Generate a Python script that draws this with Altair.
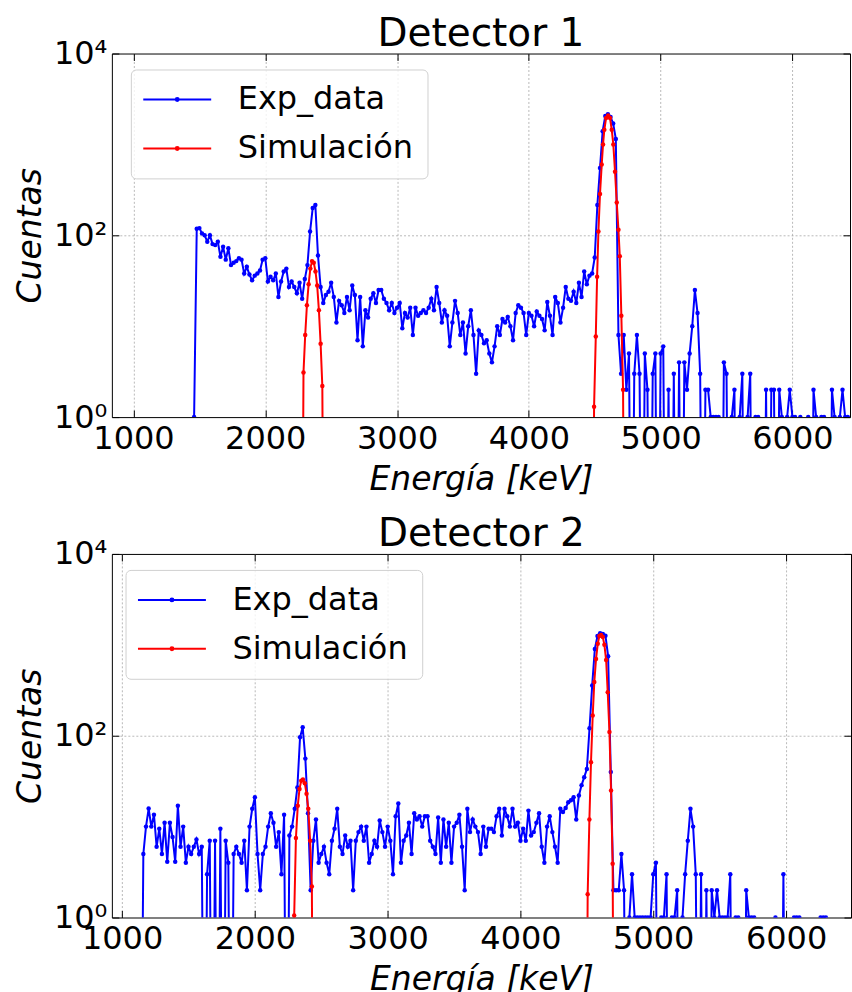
import altair as alt
import pandas as pd

# ---------------- data (counts) ----------------
STEP = 20  # keV between experimental bins

# Detector 1 - experimental spectrum, bins from 1460 keV, one row = 200 keV
d1_exp_start = 1460
d1_exp = [
    1, 118, 120, 105, 100, 85, 100, 80, 78, 85,          # 1460
    58, 75, 54, 72, 47, 50, 52, 56, 54, 38,              # 1660
    45, 37, 32, 36, 38, 41, 54, 56, 31, 35,              # 1860
    32, 38, 21, 31, 40, 43, 27, 31, 27, 23,              # 2060
    30, 20, 33, 47, 110, 200, 215, 60, 27, 18,           # 2260
    22, 24, 30, 21, 11, 19, 17, 14, 21, 15,              # 2460
    28, 22, 7, 21, 6, 15, 12.5, 20, 23, 18,              # 2660
    25, 25, 20, 18, 15, 18, 14, 16, 18, 9.5,             # 2860
    14, 12.5, 16, 8, 16, 13, 14, 15, 14, 16,             # 3060
    20, 15, 27, 18, 11, 15, 13, 6, 11, 19,               # 3260
    14, 8, 11, 5, 10, 15, 8, 3, 9, 8,                    # 3460
    6.5, 7, 5, 4, 6, 10, 8, 12, 11, 12.6,                # 3660
    10, 7, 14, 17, 16, 14, 8, 14, 13, 10,                # 3860
    14.5, 13, 12, 9, 18.5, 13, 8, 21, 18, 11,            # 4060
    16, 27, 20, 19, 24, 18, 30, 21, 40, 29,              # 4260
    36, 38, 57, 215, 550, 1400, 2050, 2150, 2000, 1700,  # 4460
    1150, 8, 3, 8, 2, 5, 0, 3, 8, 3,                     # 4660
    0, 5, 2, 0, 3, 5, 0, 5, 6, 0,                        # 4860
    2, 0, 3, 0, 4, 0, 4, 2, 5, 10,                       # 5060
    25, 14, 3, 0, 2, 2, 1, 1, 1, 1,                      # 5260
    0, 4, 3, 0, 1, 2, 0, 1, 3, 0,                        # 5460
    1, 3, 0, 1, 1, 0, 0, 2, 0, 2,                        # 5660
    2, 0, 2, 1, 0, 1, 2, 1, 1, 0,                        # 5860
    1, 0, 0, 1, 0, 2, 1, 0, 1, 1,                        # 6060
    0, 0, 2, 1, 0, 1, 2, 1, 1, 0,                        # 6260
]

# Detector 1 - simulation (two peaks)
d1_sim_energy = [2278, 2290, 2303, 2316, 2329, 2342, 2355, 2368, 2381, 2394, 2407, 2420, 2433, 2446,
                 4483, 4495, 4508, 4518, 4528, 4540, 4553, 4563, 4573, 4586, 4601, 4616, 4629, 4641,
                 4654, 4667, 4680, 4690, 4702, 4715, 4727]
d1_sim = [0, 3.1, 8, 17, 29, 43, 52, 50, 40, 28, 15, 6.4, 2.2, 0,
          0, 1.3, 7.7, 35, 110, 285, 600, 1000, 1450, 1950, 2080, 1950, 1450, 1000,
          500, 230, 115, 59, 13, 2, 0]

# Detector 2 - experimental spectrum, bins from 1140 keV
d2_exp_start = 1140
d2_exp = [
    0, 5, 10, 15.8, 10, 13.5, 6, 9.5, 5, 11,             # 1140
    4.1, 11, 7.7, 4.1, 17, 6, 10, 4, 6, 5,               # 1340
    6, 7.2, 5, 6, 0, 3, 7, 0, 7, 0,                      # 1540
    9.5, 0, 7, 4, 0, 5, 6, 5, 4, 7,                      # 1740
    2, 10, 15.7, 21, 5, 2, 5, 6, 10, 14,                 # 1940
    11, 6, 8.7, 3, 13.5, 0, 8, 10, 15.7, 27,             # 2140
    96, 124, 56, 14, 2, 7, 12, 4, 5, 6,                  # 2340
    4, 3, 7, 9.5, 15.7, 6, 5, 8, 6, 7,                   # 2540
    2, 7, 8.7, 10, 7, 10, 4, 5, 7, 6,                    # 2740
    11.7, 8.7, 6, 10, 7, 3, 13, 18, 4, 7,                # 2940
    8, 11, 5, 14, 12, 13, 10, 13, 13, 7,                 # 3140
    6, 5, 12.6, 4, 12, 6, 11, 4, 10, 11,                 # 3340
    13.5, 6, 2, 15.7, 8.7, 12, 10, 8.7, 5, 10,           # 3540
    6, 9.5, 9.5, 8.7, 13, 15.7, 8, 15.7, 13, 10,         # 3740
    15.7, 10, 11, 7, 9.5, 7, 15, 8, 8.7, 11,             # 3940
    14, 6, 4, 10, 13, 8.7, 6, 4, 15.7, 14.5,             # 4140
    16, 18.5, 19.5, 21, 12, 22, 28.6, 35, 43, 121,       # 4340
    358, 900, 1250, 1340, 1320, 1260, 750, 40, 2, 2,     # 4540
    2, 5, 2, 0, 1, 3, 1, 1, 1, 1,                        # 4740
    1, 1, 1, 3, 4, 0, 1, 1, 3, 0,                        # 4940
    1, 1, 2, 0, 1, 3, 7, 15.7, 10, 3,                    # 5140
    0, 3, 0, 2, 0, 2, 1, 2, 1, 1,                        # 5340
    1, 1, 3, 0, 1, 1, 0, 0, 2, 1,                        # 5540
    1, 1, 0, 0, 0, 0, 0, 0, 0, 1,                        # 5740
    0, 0, 3, 0, 0, 0, 1, 1, 1, 0,                        # 5940
    0, 0, 0, 0, 0, 0, 1, 1, 1,                           # 6140
]

# Detector 2 - simulation (two peaks)
d2_sim_energy = [2283, 2296, 2309, 2323, 2336, 2349, 2362, 2376, 2389, 2402, 2416, 2429, 2442,
                 4494, 4506, 4519, 4531, 4544, 4556, 4569, 4582, 4594, 4607, 4620, 4632, 4645,
                 4657, 4670, 4682, 4694, 4706]
d2_sim = [0, 1.05, 7.5, 17, 26, 32, 33, 30, 23, 15.7, 7, 2.2, 0,
          0, 1.8, 12, 51, 167, 390, 700, 1025, 1250, 1280, 1220, 1000, 680,
          300, 110, 25, 3.9, 0]

x_ticks = [1000, 2000, 3000, 4000, 5000, 6000]
y_ticks = [1, 100, 10000]
series = ["Exp_data", "Simulación"]
colors = ["#0000ff", "#ff0000"]

FONT = "DejaVu Sans"
ZERO_FLOOR = 1e-3  # zero counts fall far below the log axis (clipped), as in matplotlib


def make_df(energy, counts, name):
    df = pd.DataFrame({"energia": energy, "cuentas": counts})
    df["serie"] = name
    df["y"] = df["cuentas"].where(df["cuentas"] > 0, ZERO_FLOOR)
    return df


def panel(exp_df, sim_df, title, xdom, width, lx, ly):
    xscale = alt.Scale(domain=xdom, nice=False, zero=False)
    yscale = alt.Scale(type="log", domain=[1, 10000], nice=False)
    legend = alt.Legend(
        title=None, orient="none", legendX=lx, legendY=ly,
        symbolType="M-1.55,0L4.45,0M1.58,0A0.13,0.13,0,1,1,1.32,0A0.13,0.13,0,1,1,1.58,0",
        symbolSize=514, symbolStrokeWidth=2,
        labelFont=FONT, labelFontSize=32, labelColor="black", labelOffset=61, labelLimit=0,
        rowPadding=17, padding=14,
        fillColor="rgba(255,255,255,0.8)", strokeColor="#d0d0d0", cornerRadius=5,
    )
    color = alt.Color("serie:N", scale=alt.Scale(domain=series, range=colors), legend=legend)
    x_axis = alt.Axis(
        values=x_ticks, format="d", title="Energía [keV]", orient="bottom",
        offset=-7, domain=False, tickSize=7, labelPadding=6, titlePadding=9,
        grid=True,
    )
    y_axis = alt.Axis(
        values=y_ticks, title="Cuentas", orient="left",
        labelExpr="datum.value == 1 ? '10⁰' : (datum.value == 100 ? '10²' : '10⁴')",
        offset=-7, domain=False, tickSize=7, labelPadding=5, titlePadding=6,
        grid=True,
        gridOpacity={"condition": {"test": "datum.value == 100", "value": 1}, "value": 0},
    )
    x_top = alt.Axis(values=x_ticks, orient="top", labels=False, title=None, offset=-7,
                     domain=False, tickSize=7, grid=False)
    y_right = alt.Axis(values=y_ticks, orient="right", labels=False, title=None, offset=-7,
                       domain=False, tickSize=7, grid=False)
    line_kw = dict(strokeWidth=2, clip=True,
                   point=alt.OverlayMarkDef(filled=True, size=20, clip=True))
    blue = alt.Chart(exp_df).mark_line(**line_kw).encode(
        x=alt.X("energia:Q", scale=xscale, axis=x_axis),
        y=alt.Y("y:Q", scale=yscale, axis=y_axis),
        color=color,
    )
    red = alt.Chart(sim_df).mark_line(**line_kw).encode(
        x=alt.X("energia:Q", scale=xscale, axis=None),
        y=alt.Y("y:Q", scale=yscale, axis=None),
        color=color,
    )
    frame = alt.Chart(exp_df).mark_line(opacity=0, clip=True).encode(
        x=alt.X("energia:Q", scale=xscale, axis=x_top),
        y=alt.Y("y:Q", scale=yscale, axis=y_right),
    )
    return alt.layer(blue, red, frame).resolve_axis(x="independent", y="independent").properties(
        width=width, height=364,
        title=alt.Title(title, fontSize=39, font=FONT, fontWeight="normal", color="black",
                        baseline="alphabetic", offset=-47.4, anchor="middle"),
    )


d1_energy = [d1_exp_start + STEP * i for i in range(len(d1_exp))]
d2_energy = [d2_exp_start + STEP * i for i in range(len(d2_exp))]

top = panel(make_df(d1_energy, d1_exp, series[0]), make_df(d1_sim_energy, d1_sim, series[1]),
            "Detector 1", [836, 6437], 739, 19, 16)
bottom = panel(make_df(d2_energy, d2_exp, series[0]), make_df(d2_sim_energy, d2_sim, series[1]),
               "Detector 2", [923, 6489], 740, 13.7, 16)

chart = alt.vconcat(top, bottom, spacing=17).resolve_legend(color="independent").configure(
    font=FONT, padding={"left": 13, "top": 13, "right": 0, "bottom": 0},
).configure_view(
    stroke="black", strokeWidth=1,
).configure_axis(
    labelFont=FONT, labelFontSize=32, labelColor="black",
    titleFont=FONT, titleFontSize=33, titleFontStyle="italic", titleFontWeight="normal",
    titleColor="black", tickColor="black", tickWidth=1,
    gridColor="#9a9a9a", gridDash=[2, 2], gridWidth=0.7,
)

chart.save("out.html", embed_options={"renderer": "svg", "actions": False})
